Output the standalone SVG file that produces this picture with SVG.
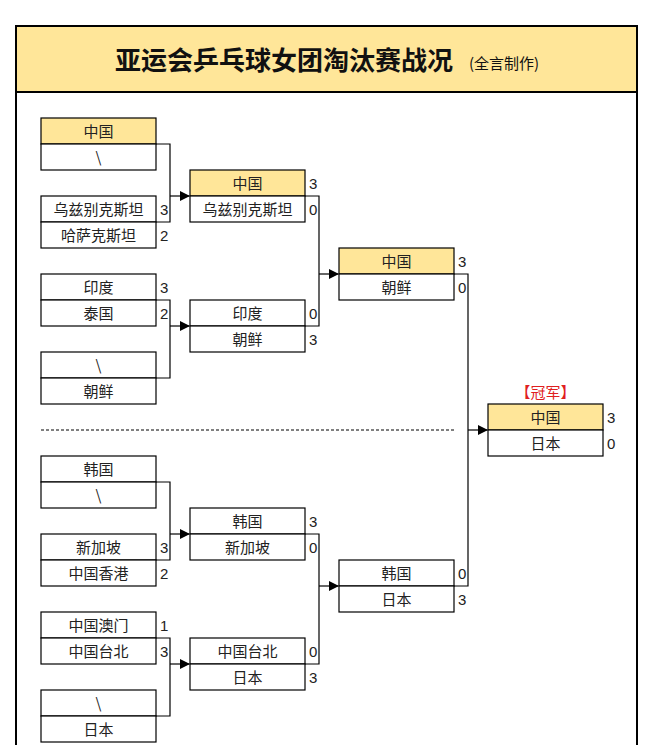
<svg xmlns="http://www.w3.org/2000/svg" width="654" height="745" viewBox="0 0 654 745">
<style>
.c{fill:#fff;stroke:#000;stroke-width:1.2}
.y{fill:#FFE699;stroke:#000;stroke-width:1.2}
text{font-family:"Noto Sans CJK SC","Noto Sans",sans-serif;font-size:15px;fill:#222}
.t{text-anchor:middle}
.s{font-family:"Liberation Sans",sans-serif;font-size:15px}
.ln{fill:none;stroke:#000;stroke-width:1.2}
</style>
<defs><marker id="a" markerWidth="10" markerHeight="10" refX="9" refY="5" orient="auto" markerUnits="userSpaceOnUse"><path d="M0,0 L10,5 L0,10 z" fill="#000"/></marker></defs>
<rect x="0" y="0" width="654" height="745" fill="#fff"/>
<g id="frame">
<rect x="16" y="26" width="621" height="730" fill="#fff" stroke="#000" stroke-width="2"/>
<rect x="16" y="26" width="621" height="66" fill="#FFE699" stroke="#000" stroke-width="2"/>
<text x="284" y="70" class="t" style="font-size:26px;font-weight:bold;fill:#111">亚运会乒乓球女团淘汰赛战况</text>
<text x="504" y="69" class="t" style="font-size:15px;fill:#111">(全言制作)</text>
</g>
<g id="connectors">
<path class="ln" d="M156,144 H170 V222 H156"/><path class="ln" d="M170,196 H189" marker-end="url(#a)"/>
<path class="ln" d="M156,300 H170 V378 H156"/><path class="ln" d="M170,326 H189" marker-end="url(#a)"/>
<path class="ln" d="M305,196 H319 V326 H305"/><path class="ln" d="M319,274 H338" marker-end="url(#a)"/>
<path class="ln" d="M454,274 H468 V586 H454"/><path class="ln" d="M468,430 H487" marker-end="url(#a)"/>
<path class="ln" d="M156,482 H170 V560 H156"/><path class="ln" d="M170,534 H189" marker-end="url(#a)"/>
<path class="ln" d="M156,638 H170 V716 H156"/><path class="ln" d="M170,664 H189" marker-end="url(#a)"/>
<path class="ln" d="M305,534 H319 V664 H305"/><path class="ln" d="M319,586 H338" marker-end="url(#a)"/>
<path d="M41,430 H454" stroke="#000" stroke-width="1" stroke-dasharray="3,2"/>
</g>
<g id="r1m1"><rect class="y" x="41" y="118" width="115" height="26"/><text class="t" x="98.5" y="137">中国</text><rect class="c" x="41" y="144" width="115" height="26"/><text class="t" x="98.5" y="163">\</text></g>
<g id="r1m2"><rect class="c" x="41" y="196" width="115" height="26"/><text class="t" x="98.5" y="215">乌兹别克斯坦</text><text class="s" x="160" y="215">3</text><rect class="c" x="41" y="222" width="115" height="26"/><text class="t" x="98.5" y="241">哈萨克斯坦</text><text class="s" x="160" y="241">2</text></g>
<g id="r1m3"><rect class="c" x="41" y="274" width="115" height="26"/><text class="t" x="98.5" y="293">印度</text><text class="s" x="160" y="293">3</text><rect class="c" x="41" y="300" width="115" height="26"/><text class="t" x="98.5" y="319">泰国</text><text class="s" x="160" y="319">2</text></g>
<g id="r1m4"><rect class="c" x="41" y="352" width="115" height="26"/><text class="t" x="98.5" y="371">\</text><rect class="c" x="41" y="378" width="115" height="26"/><text class="t" x="98.5" y="397">朝鲜</text></g>
<g id="r1m5"><rect class="c" x="41" y="456" width="115" height="26"/><text class="t" x="98.5" y="475">韩国</text><rect class="c" x="41" y="482" width="115" height="26"/><text class="t" x="98.5" y="501">\</text></g>
<g id="r1m6"><rect class="c" x="41" y="534" width="115" height="26"/><text class="t" x="98.5" y="553">新加坡</text><text class="s" x="160" y="553">3</text><rect class="c" x="41" y="560" width="115" height="26"/><text class="t" x="98.5" y="579">中国香港</text><text class="s" x="160" y="579">2</text></g>
<g id="r1m7"><rect class="c" x="41" y="612" width="115" height="26"/><text class="t" x="98.5" y="631">中国澳门</text><text class="s" x="160" y="631">1</text><rect class="c" x="41" y="638" width="115" height="26"/><text class="t" x="98.5" y="657">中国台北</text><text class="s" x="160" y="657">3</text></g>
<g id="r1m8"><rect class="c" x="41" y="690" width="115" height="26"/><text class="t" x="98.5" y="709">\</text><rect class="c" x="41" y="716" width="115" height="26"/><text class="t" x="98.5" y="735">日本</text></g>
<g id="r2m1"><rect class="y" x="190" y="170" width="115" height="26"/><text class="t" x="247.5" y="189">中国</text><text class="s" x="309" y="189">3</text><rect class="c" x="190" y="196" width="115" height="26"/><text class="t" x="247.5" y="215">乌兹别克斯坦</text><text class="s" x="309" y="215">0</text></g>
<g id="r2m2"><rect class="c" x="190" y="300" width="115" height="26"/><text class="t" x="247.5" y="319">印度</text><text class="s" x="309" y="319">0</text><rect class="c" x="190" y="326" width="115" height="26"/><text class="t" x="247.5" y="345">朝鲜</text><text class="s" x="309" y="345">3</text></g>
<g id="r2m3"><rect class="c" x="190" y="508" width="115" height="26"/><text class="t" x="247.5" y="527">韩国</text><text class="s" x="309" y="527">3</text><rect class="c" x="190" y="534" width="115" height="26"/><text class="t" x="247.5" y="553">新加坡</text><text class="s" x="309" y="553">0</text></g>
<g id="r2m4"><rect class="c" x="190" y="638" width="115" height="26"/><text class="t" x="247.5" y="657">中国台北</text><text class="s" x="309" y="657">0</text><rect class="c" x="190" y="664" width="115" height="26"/><text class="t" x="247.5" y="683">日本</text><text class="s" x="309" y="683">3</text></g>
<g id="sf1"><rect class="y" x="339" y="248" width="115" height="26"/><text class="t" x="396.5" y="267">中国</text><text class="s" x="458" y="267">3</text><rect class="c" x="339" y="274" width="115" height="26"/><text class="t" x="396.5" y="293">朝鲜</text><text class="s" x="458" y="293">0</text></g>
<g id="sf2"><rect class="c" x="339" y="560" width="115" height="26"/><text class="t" x="396.5" y="579">韩国</text><text class="s" x="458" y="579">0</text><rect class="c" x="339" y="586" width="115" height="26"/><text class="t" x="396.5" y="605">日本</text><text class="s" x="458" y="605">3</text></g>
<g id="final"><text class="t" x="545.5" y="398" style="fill:#E02020">【冠军】</text><rect class="y" x="488" y="404" width="115" height="26"/><text class="t" x="545.5" y="423">中国</text><text class="s" x="607" y="423">3</text><rect class="c" x="488" y="430" width="115" height="26"/><text class="t" x="545.5" y="449">日本</text><text class="s" x="607" y="449">0</text></g>
</svg>
